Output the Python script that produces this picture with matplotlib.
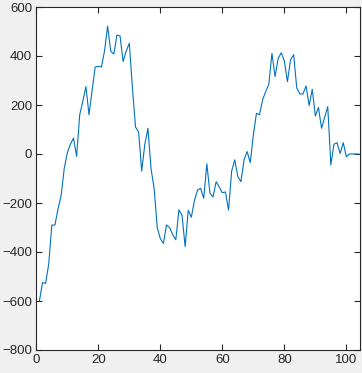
import matplotlib
matplotlib.use('Agg')
import matplotlib.pyplot as plt

# values
x = list(range(1, 105))
y = [-600, -525, -528, -450, -290, -290, -225, -170, -60, 5,
     40, 65, -10, 160, 215, 275, 160, 260, 355, 358,
     355, 420, 522, 420, 408, 485, 482, 378, 420, 452,
     270, 110, 90, -70, 40, 105, -60, -140, -300, -345,
     -365, -290, -300, -330, -350, -228, -250, -378, -230, -258,
     -190, -147, -140, -181, -40, -160, -175, -113, -135, -158,
     -155, -229, -70, -24, -92, -113, -24, 10, -35, 78,
     166, 160, 222, 255, 285, 411, 316, 390, 413, 380,
     295, 385, 405, 270, 245, 245, 278, 198, 264, 155,
     190, 105, 150, 193, -45, 40, 46, 2, 46, -11,
     0, 0, 0, 0]

xticks = [0, 20, 40, 60, 80, 100]
yticks = [-800, -600, -400, -200, 0, 200, 400, 600]

W, H = 362, 373
fig = plt.figure(figsize=(W / 100, H / 100), dpi=100, facecolor=(0.94, 0.94, 0.94))
ax = fig.add_axes([36.3 / W, (H - 350) / H, (360 - 36.3) / W, 343 / H])

ax.plot(x, y, color=(0, 0.447, 0.741), linewidth=0.8)

ax.set_xlim(0, 104.4)
ax.set_ylim(-800, 600)
ax.set_xticks(xticks)
ax.set_yticks(yticks)

dark = (0.15, 0.15, 0.15)
for s in ax.spines.values():
    s.set_color(dark)
    s.set_linewidth(0.8)
ax.tick_params(direction='in', top=True, right=True, length=4, width=0.8,
               colors=dark, labelsize=9.5, pad=3)
for lab in ax.get_xticklabels() + ax.get_yticklabels():
    lab.set_fontfamily('Liberation Sans')

fig.savefig('out.png', dpi=100, facecolor=fig.get_facecolor())
